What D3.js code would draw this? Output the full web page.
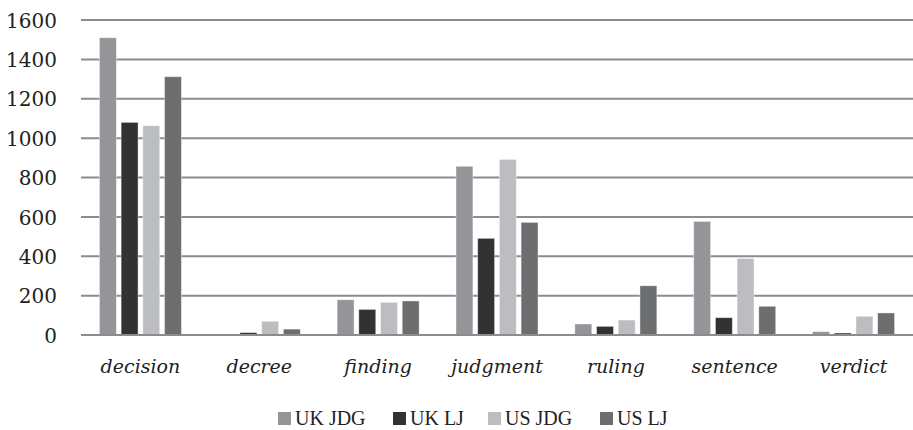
<!DOCTYPE html>
<html><head><meta charset="utf-8">
<script src="https://cdn.jsdelivr.net/npm/d3@7/dist/d3.min.js"></script>
<style>html,body{margin:0;padding:0;background:#fff;}</style>
</head><body>
<svg id="chart" width="913" height="430"></svg>
<script>
const categories = ["decision","decree","finding","judgment","ruling","sentence","verdict"];
const seriesNames = ["UK JDG","UK LJ","US JDG","US LJ"];
const ukJdg = [1510, 0, 179, 857, 56, 577, 17];
const ukLj  = [1080, 12, 130, 491, 44, 88, 10];
const usJdg = [1063, 70, 166, 892, 76, 389, 95];
const usLj  = [1312, 30, 173, 572, 250, 146, 112];
const yTicks = [0,200,400,600,800,1000,1200,1400,1600];
const colors = ["#939598","#333132","#bcbdc0","#6d6e70"];

(function(){
const seriesValues = [ukJdg, ukLj, usJdg, usLj];
const svg = d3.select("#chart");
const mLeft = 81, mRight = 913, mTop = 20, mBottom = 335;

const y = d3.scaleLinear().domain([0,1600]).range([mBottom, mTop]);
const x0 = d3.scaleBand().domain(categories).range([mLeft, mRight]).paddingInner(0.31).paddingOuter(0.155);
const x1 = d3.scaleBand().domain(seriesNames).range([0, x0.bandwidth()]).paddingInner(0.22);
const color = d3.scaleOrdinal().domain(seriesNames).range(colors);

// grid
svg.append("g").selectAll("line").data(yTicks).join("line")
  .attr("x1", mLeft).attr("x2", mRight)
  .attr("y1", d => y(d)).attr("y2", d => y(d))
  .attr("stroke", "#8c8c8c").attr("stroke-width", 2);

// y axis labels
const yAxis = d3.axisLeft(y).tickValues(yTicks).tickSize(0).tickPadding(0).tickFormat(d3.format("d"));
const ya = svg.append("g").attr("transform", `translate(57,0)`).call(yAxis);
ya.select(".domain").remove();
ya.selectAll("text").attr("font-family","DejaVu Serif").attr("font-size","20px").attr("fill","#222").attr("dy","0.36em");

// bars
const data = categories.map((c,i) => ({cat:c, vals: seriesNames.map((s,j)=>({s, v: seriesValues[j][i]}))}));
svg.append("g").selectAll("g").data(data).join("g")
  .attr("transform", d => `translate(${x0(d.cat)},0)`)
  .selectAll("rect").data(d => d.vals).join("rect")
  .attr("x", d => x1(d.s)).attr("width", x1.bandwidth())
  .attr("y", d => y(d.v)).attr("height", d => mBottom - y(d.v))
  .attr("fill", d => color(d.s))
  .attr("stroke", "#ffffff").attr("stroke-opacity", 0.5).attr("stroke-width", 0.8);

// baseline
svg.append("line").attr("x1", mLeft).attr("x2", mRight).attr("y1", y(0)).attr("y2", y(0))
  .attr("stroke", "#8c8c8c").attr("stroke-width", 2);

// x axis labels
const xAxis = d3.axisBottom(x0).tickSize(0).tickPadding(0);
const xa = svg.append("g").attr("transform", `translate(0,${mBottom})`).call(xAxis);
xa.select(".domain").remove();
xa.selectAll("text").attr("font-family","DejaVu Serif").attr("font-style","italic").attr("font-size","19px")
  .attr("fill","#222").attr("dy", null).attr("y", 38);

// legend
const legendX = [278, 393, 488, 600];
const lg = svg.append("g").selectAll("g").data(seriesNames).join("g")
  .attr("transform", (d,i) => `translate(${legendX[i]},412)`);
lg.append("rect").attr("width", 13).attr("height", 13).attr("fill", d => color(d));
lg.append("text").attr("x", 17).attr("y", 13).text(d => d)
  .attr("font-family","Liberation Serif").attr("font-size","20px").attr("fill","#222");
})();
</script>
</body></html>
